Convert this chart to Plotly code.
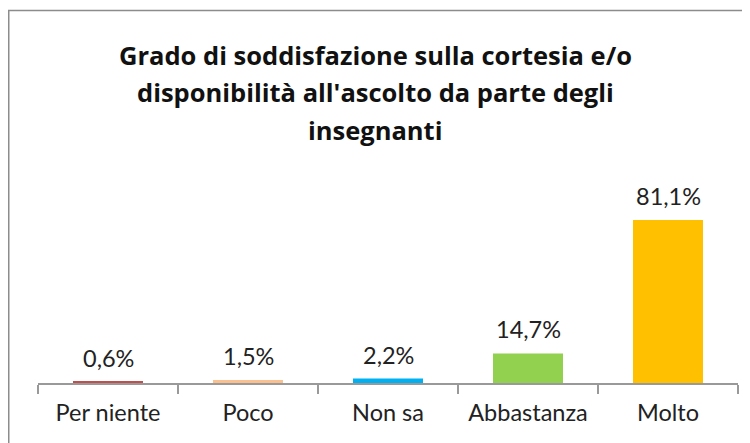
import plotly.graph_objects as go

categories = ["Per niente", "Poco", "Non sa", "Abbastanza", "Molto"]
values = [0.6, 1.5, 2.2, 14.7, 81.1]
labels = ["0,6%", "1,5%", "2,2%", "14,7%", "81,1%"]
colors = ["#C0504D", "#FAC090", "#00B0F0", "#92D050", "#FFC000"]

W, H = 750, 443
OFF = 8  # page body margin
ml, mr, mt, mb = 30, 20, 172, 68
pw, ph = W - ml - mr, H - mt - mb
FONT = "Lato"

fig = go.Figure(go.Bar(x=categories, y=values, marker=dict(color=colors, line=dict(width=0)),
                       hoverinfo="skip"))

for c, v, t in zip(categories, values, labels):
    fig.add_annotation(x=c, y=v, text=t, showarrow=False, yanchor="bottom", yshift=8,
                       font=dict(size=23.5, color="#222", family=FONT))

title_lines = ["Grado di soddisfazione sulla cortesia e/o",
               "disponibilità all'ascolto da parte degli",
               "insegnanti"]
title_y = [55, 92, 130]
for line, yy in zip(title_lines, title_y):
    fig.add_annotation(xref="paper", yref="paper", x=(375 - OFF - ml) / pw, y=(H - mb - (yy - OFF)) / ph,
                       text="<b>" + line + "</b>", showarrow=False, xanchor="center", yanchor="middle",
                       font=dict(size=25.5, color="#111", family="Open Sans"))

fig.add_shape(type="rect", xref="paper", yref="paper",
              x0=(0.75 - ml) / pw, x1=(770 - ml) / pw,
              y0=(H - mb - 470) / ph, y1=(H - mb - 2.5) / ph,
              line=dict(color="#8c8c8c", width=1.5), fillcolor="rgba(0,0,0,0)", layer="below")

fig.update_layout(
    width=W, height=H, margin=dict(l=ml, r=mr, t=mt, b=mb),
    paper_bgcolor="white", plot_bgcolor="white", showlegend=False,
    bargap=0.5,
    font=dict(family=FONT, size=23.5, color="#222"),
    xaxis=dict(showline=True, linecolor="#999", linewidth=1.5, ticks="outside", tickson="boundaries",
               ticklen=9, tickcolor="#999", tickwidth=1.5, tickfont=dict(size=23.5, color="#222"),
               ticklabelstandoff=8, showgrid=False),
    yaxis=dict(range=[0, 101], visible=False, showgrid=False),
)

fig.write_html("out.html")
